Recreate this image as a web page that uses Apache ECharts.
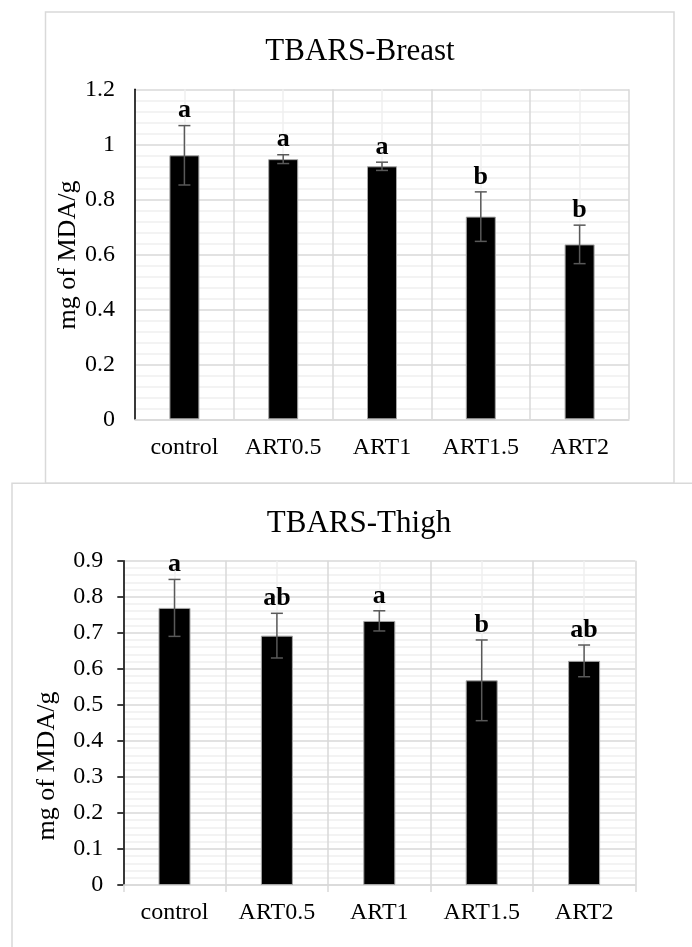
<!DOCTYPE html>
<html>
<head>
<meta charset="utf-8">
<script src="https://cdn.jsdelivr.net/npm/echarts@6/dist/echarts.min.js"></script>
<style>
  html, body { margin: 0; padding: 0; background: #fff; }
  #chart { width: 692px; height: 947px; }
</style>
</head>
<body>
<div id="chart"></div>
<script>
// ---- data ----
const categories = ['control', 'ART0.5', 'ART1', 'ART1.5', 'ART2'];

const breastTitle = 'TBARS-Breast';
const breastMean = [0.96, 0.946, 0.92, 0.737, 0.636];
const breastErr = [0.108, 0.016, 0.015, 0.09, 0.07];
const breastLetters = ['a', 'a', 'a', 'b', 'b'];
const breastTicks = [0, 0.2, 0.4, 0.6, 0.8, 1, 1.2];

const thighTitle = 'TBARS-Thigh';
const thighMean = [0.769, 0.692, 0.733, 0.568, 0.622];
const thighErr = [0.079, 0.062, 0.028, 0.112, 0.044];
const thighLetters = ['a', 'ab', 'a', 'b', 'ab'];
const thighTicks = [0, 0.1, 0.2, 0.3, 0.4, 0.5, 0.6, 0.7, 0.8, 0.9];

const yName = 'mg of MDA/g';

// ---- styles ----
const FONT = '"Liberation Serif", "Times New Roman", serif';
const MAJOR = '#d9d9d9';
const MINOR = '#f0f0f0';

const chart = echarts.init(document.getElementById('chart'), null, { renderer: 'canvas' });

function errRender(letters) {
  return function (params, api) {
    const i = api.value(0);
    const m = api.value(1);
    const e = api.value(2);
    const top = api.coord([i, m + e]);
    const bot = api.coord([i, m - e]);
    const x = top[0];
    const cap = 6;
    const st = { stroke: '#595959', lineWidth: 1.5 };
    return {
      type: 'group',
      children: [
        { type: 'line', shape: { x1: x, y1: top[1], x2: x, y2: bot[1] }, style: st },
        { type: 'line', shape: { x1: x - cap, y1: top[1], x2: x + cap, y2: top[1] }, style: st },
        { type: 'line', shape: { x1: x - cap, y1: bot[1], x2: x + cap, y2: bot[1] }, style: st },
        {
          type: 'text', x: x, y: top[1] - 2,
          style: {
            text: letters[params.dataIndex], fill: '#000',
            font: 'bold 26px ' + FONT, align: 'center', verticalAlign: 'bottom'
          }
        }
      ]
    };
  };
}

function catAxis(gridIndex, showTick) {
  return {
    type: 'category', gridIndex: gridIndex, data: categories,
    axisLine: { show: true, lineStyle: { color: MAJOR, width: 1.5 } },
    axisTick: { show: showTick, interval: 0, length: 7, lineStyle: { color: MAJOR, width: 1.5 } },
    axisLabel: { color: '#000', fontFamily: FONT, fontSize: 24, margin: 16, interval: 0 },
    splitLine: { show: false }
  };
}
function gridXAxis(gridIndex) {
  return {
    type: 'value', gridIndex: gridIndex, min: 0, max: categories.length, interval: 1,
    axisLine: { show: false }, axisTick: { show: false }, axisLabel: { show: false },
    minorTick: { show: false, splitNumber: 2 },
    splitLine: { show: true, lineStyle: { color: MAJOR, width: 1.5 } },
    minorSplitLine: { show: true, lineStyle: { color: MINOR, width: 1.5 } }
  };
}
function valAxis(gridIndex, ticks, showTick) {
  return {
    type: 'value', gridIndex: gridIndex,
    min: ticks[0], max: ticks[ticks.length - 1], interval: ticks[1] - ticks[0],
    axisLine: { show: true, lineStyle: { color: '#000', width: 1.5 } },
    axisTick: { show: showTick, length: 6, lineStyle: { color: '#000', width: 1.5 } },
    axisLabel: { color: '#000', fontFamily: FONT, fontSize: 24, margin: 20 },
    minorTick: { show: false, splitNumber: 5 },
    splitLine: { show: true, lineStyle: { color: MAJOR, width: 1.5 } },
    minorSplitLine: { show: true, lineStyle: { color: MINOR, width: 1.5 } }
  };
}

const option = {
  animation: false,
  backgroundColor: '#fff',
  grid: [
    { left: 135, right: 63, top: 89.3, bottom: 527.7 },
    { left: 123.3, right: 56.7, top: 560.7, bottom: 62 }
  ],
  xAxis: [catAxis(0, false), gridXAxis(0), catAxis(1, true), gridXAxis(1)],
  yAxis: [valAxis(0, breastTicks, false), valAxis(1, thighTicks, true)],
  graphic: [
    { type: 'rect', shape: { x: 45.5, y: 12, width: 628.5, height: 471.3 }, style: { fill: 'none', stroke: MAJOR, lineWidth: 1.5 }, z: -1 },
    { type: 'rect', shape: { x: 12, y: 483.3, width: 720, height: 500 }, style: { fill: 'none', stroke: MAJOR, lineWidth: 1.5 }, z: -1 },
    { type: 'text', x: 360, y: 52, style: { text: breastTitle, font: '31px ' + FONT, fill: '#000', align: 'center', verticalAlign: 'middle' } },
    { type: 'text', x: 359, y: 524, style: { text: thighTitle, font: '31px ' + FONT, fill: '#000', align: 'center', verticalAlign: 'middle' } },
    { type: 'text', x: 68, y: 255, rotation: Math.PI / 2, style: { text: yName, font: '26px ' + FONT, fill: '#000', align: 'center', verticalAlign: 'middle' } },
    { type: 'text', x: 47, y: 766, rotation: Math.PI / 2, style: { text: yName, font: '26px ' + FONT, fill: '#000', align: 'center', verticalAlign: 'middle' } }
  ],
  series: [
    {
      type: 'bar', xAxisIndex: 0, yAxisIndex: 0, data: breastMean, barWidth: 30,
      itemStyle: { color: '#000', borderColor: '#a6a6a6', borderWidth: 1 }
    },
    {
      type: 'custom', xAxisIndex: 0, yAxisIndex: 0, z: 5,
      renderItem: errRender(breastLetters),
      data: categories.map((c, i) => [i, breastMean[i], breastErr[i]])
    },
    {
      type: 'bar', xAxisIndex: 2, yAxisIndex: 1, data: thighMean, barWidth: 32,
      itemStyle: { color: '#000', borderColor: '#a6a6a6', borderWidth: 1 }
    },
    {
      type: 'custom', xAxisIndex: 2, yAxisIndex: 1, z: 5,
      renderItem: errRender(thighLetters),
      data: categories.map((c, i) => [i, thighMean[i], thighErr[i]])
    }
  ]
};
chart.setOption(option);
</script>
</body>
</html>
